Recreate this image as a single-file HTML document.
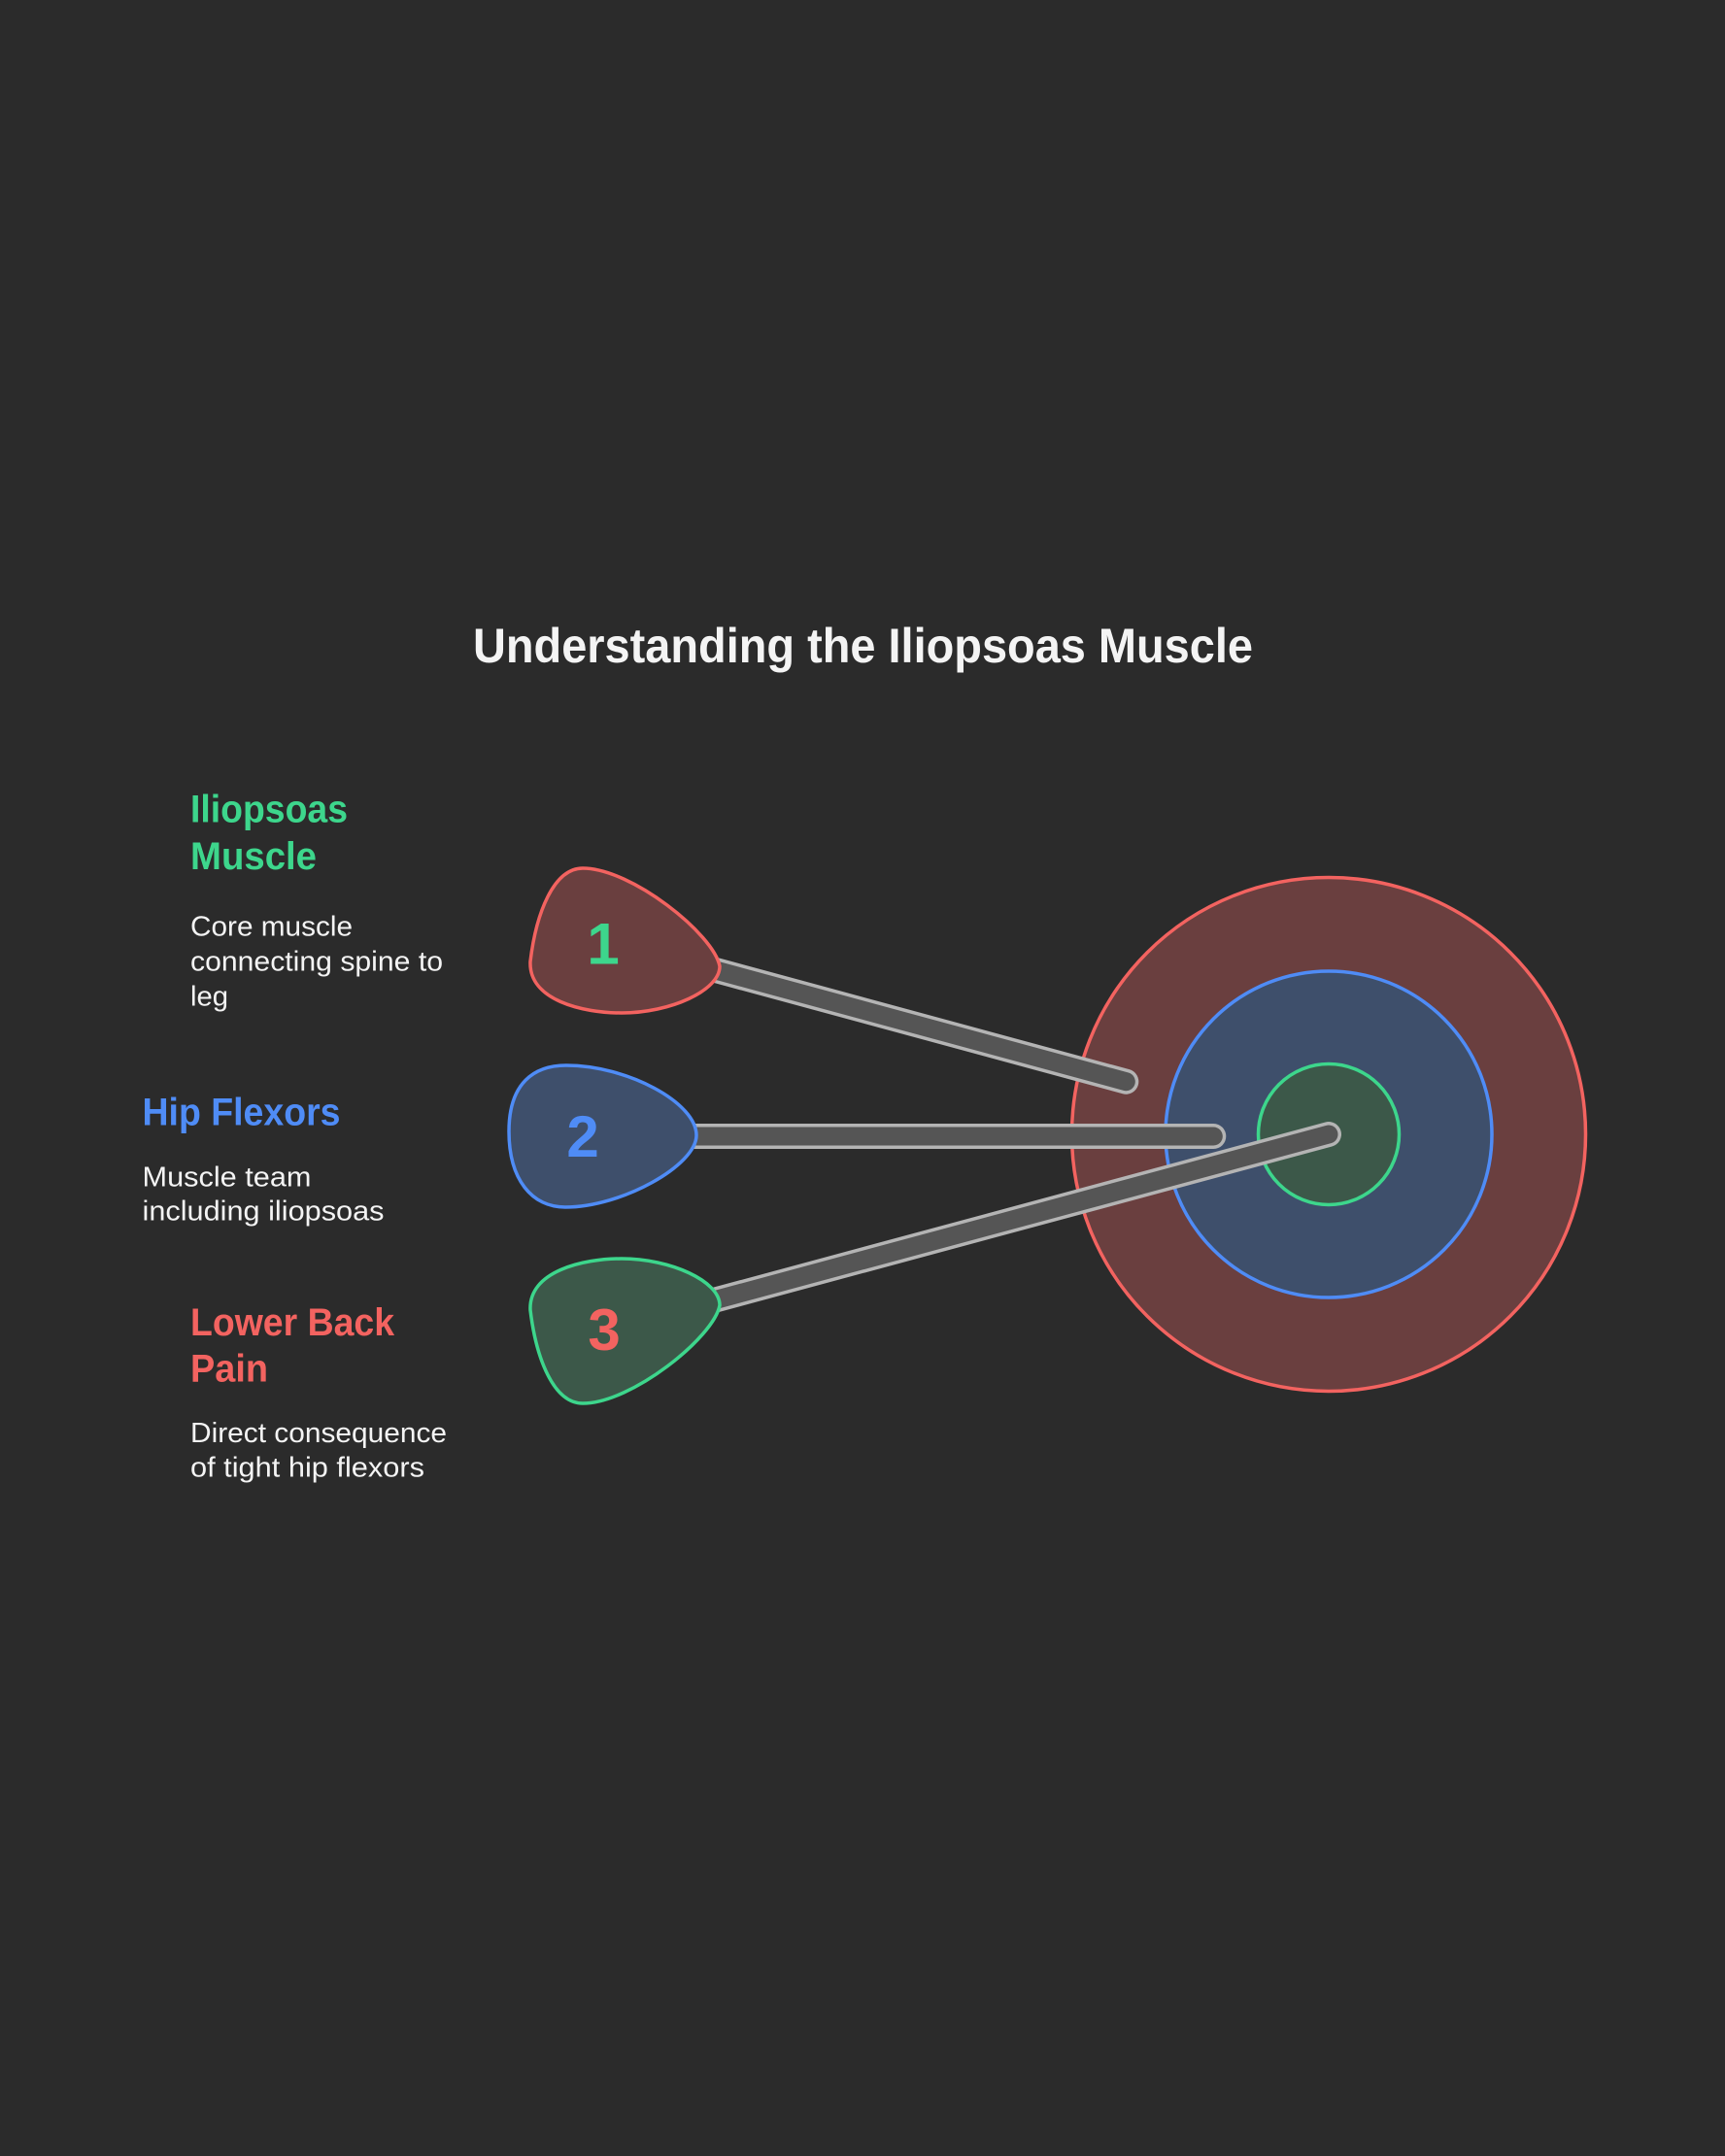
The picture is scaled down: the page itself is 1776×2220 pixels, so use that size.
<!DOCTYPE html>
<html>
<head>
<meta charset="utf-8">
<style>
  html, body { margin: 0; padding: 0; background: #2b2b2b; }
  svg { display: block; }
  text { font-family: "Liberation Sans", Arial, sans-serif; }
</style>
</head>
<body>
<svg width="1776" height="2220" viewBox="0 0 1776 2220" xmlns="http://www.w3.org/2000/svg">
  <rect x="0" y="0" width="1776" height="2220" fill="#2b2b2b"/>

  <!-- Title -->
  <text x="487" y="682" font-size="50" font-weight="bold" fill="#f4f4f4" textLength="803" lengthAdjust="spacingAndGlyphs">Understanding the Iliopsoas Muscle</text>

  <!-- Target circles -->
  <circle cx="1368" cy="1168" r="264.5" fill="#6a3f3f" stroke="#f36360" stroke-width="3.5"/>
  <circle cx="1368" cy="1168" r="168" fill="#3e4f6b" stroke="#4f8cf6" stroke-width="3.5"/>
  <circle cx="1368" cy="1168" r="72.5" fill="#3c5849" stroke="#3dd68c" stroke-width="3.5"/>

  <!-- Bars (outer light stroke, inner dark fill) -->
  <g stroke-linecap="round">
    <line x1="640" y1="972.7" x2="1159.3" y2="1113.7" stroke="#b4b4b4" stroke-width="26"/>
    <line x1="640" y1="972.7" x2="1159.3" y2="1113.7" stroke="#555555" stroke-width="19"/>

    <line x1="600" y1="1170" x2="1249.3" y2="1170" stroke="#b4b4b4" stroke-width="26"/>
    <line x1="600" y1="1170" x2="1249.3" y2="1170" stroke="#555555" stroke-width="19"/>

    <line x1="640" y1="1364.6" x2="1368" y2="1168" stroke="#b4b4b4" stroke-width="26"/>
    <line x1="640" y1="1364.6" x2="1368" y2="1168" stroke="#555555" stroke-width="19"/>
  </g>

  <!-- Blob 1 -->
  <path d="M 741,995 C 735,962 650,894 600,894 C 570,894 552,940 546,990 C 544,1030 600,1043 640,1043 C 690,1043 741,1020 741,995 Z"
        fill="#6a3f3f" stroke="#f36360" stroke-width="3.5"/>
  <text x="621" y="992.7" font-size="60" font-weight="bold" fill="#3dd68c" text-anchor="middle">1</text>

  <!-- Blob 2 -->
  <path d="M 717,1169 C 717,1135 645,1097 583,1097 C 550,1097 524,1115 524,1165 C 524,1215 548,1243 582,1243 C 640,1243 717,1200 717,1169 Z"
        fill="#3e4f6b" stroke="#4f8cf6" stroke-width="3.5"/>
  <text x="600" y="1191" font-size="60" font-weight="bold" fill="#4f8cf6" text-anchor="middle">2</text>

  <!-- Blob 3 -->
  <path d="M 741,1344 C 735,1377 650,1445 600,1445 C 570,1445 552,1399 546,1349 C 544,1309 600,1296 640,1296 C 690,1296 741,1319 741,1344 Z"
        fill="#3c5849" stroke="#3dd68c" stroke-width="3.5"/>
  <text x="622" y="1390" font-size="60" font-weight="bold" fill="#f36360" text-anchor="middle">3</text>

  <!-- Section 1 -->
  <text x="196" y="846.7" font-size="40" font-weight="bold" fill="#3dd68c" textLength="162" lengthAdjust="spacingAndGlyphs">Iliopsoas</text>
  <text x="196" y="895" font-size="40" font-weight="bold" fill="#3dd68c" textLength="130" lengthAdjust="spacingAndGlyphs">Muscle</text>
  <text x="196" y="963.3" font-size="29" fill="#f4f4f4" textLength="167" lengthAdjust="spacingAndGlyphs">Core muscle</text>
  <text x="196" y="999.3" font-size="29" fill="#f4f4f4" textLength="260" lengthAdjust="spacingAndGlyphs">connecting spine to</text>
  <text x="196" y="1035.3" font-size="29" fill="#f4f4f4" textLength="39" lengthAdjust="spacingAndGlyphs">leg</text>

  <!-- Section 2 -->
  <text x="146.5" y="1158.3" font-size="40" font-weight="bold" fill="#4f8cf6" textLength="204" lengthAdjust="spacingAndGlyphs">Hip Flexors</text>
  <text x="146.5" y="1221.7" font-size="29" fill="#f4f4f4" textLength="174" lengthAdjust="spacingAndGlyphs">Muscle team</text>
  <text x="146.5" y="1256.7" font-size="29" fill="#f4f4f4" textLength="249" lengthAdjust="spacingAndGlyphs">including iliopsoas</text>

  <!-- Section 3 -->
  <text x="196" y="1375" font-size="40" font-weight="bold" fill="#f36360" textLength="210" lengthAdjust="spacingAndGlyphs">Lower Back</text>
  <text x="196" y="1422.7" font-size="40" font-weight="bold" fill="#f36360" textLength="80" lengthAdjust="spacingAndGlyphs">Pain</text>
  <text x="196" y="1485" font-size="29" fill="#f4f4f4" textLength="264" lengthAdjust="spacingAndGlyphs">Direct consequence</text>
  <text x="196" y="1520.7" font-size="29" fill="#f4f4f4" textLength="241" lengthAdjust="spacingAndGlyphs">of tight hip flexors</text>
</svg>
</body>
</html>
